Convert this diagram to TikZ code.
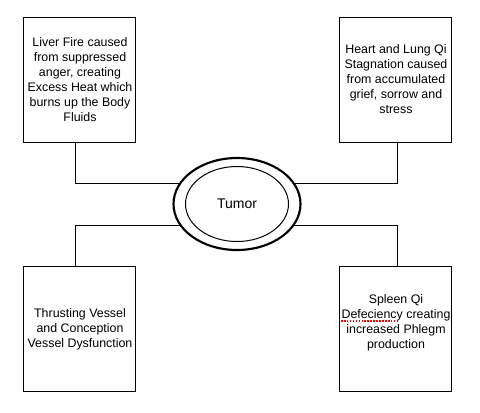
\documentclass[tikz,border=0pt]{standalone}
\usepackage{fontspec}
\setmainfont{Liberation Sans}
\usetikzlibrary{backgrounds,calc,shapes.geometric}
\begin{document}
\begin{tikzpicture}[x=0.75pt,y=-0.75pt,
  box/.style={draw, line width=0.75pt, minimum width=84pt, minimum height=93.75pt,
    inner sep=0pt, align=center, font=\fontsize{9.3}{11.25}\selectfont},
  boxtext/.style={inner sep=0pt, align=center, font=\fontsize{9.3}{11.25}\selectfont},
  conn/.style={draw, line width=0.75pt},
  outerell/.style={ellipse, draw, line width=1.6pt, fill=white, minimum width=95.25pt,
    minimum height=69pt, inner sep=0pt},
  innerell/.style={ellipse, draw, line width=0.75pt, minimum width=77.25pt,
    minimum height=56.25pt, inner sep=0pt, font=\fontsize{10.5}{12}\selectfont}]
\useasboundingbox (0,0) rectangle (480,412);
\node[box] (tl) at (80,79.5) {Liver Fire caused\\from suppressed\\anger, creating\\Excess Heat which\\burns up the Body\\Fluids};
\node[box] (tr) at (396,79.5) {Heart and Lung Qi\\Stagnation caused\\from accumulated\\grief, sorrow and\\stress};
\node[box] (bl) at (80,329) {Thrusting Vessel\\and Conception\\Vessel Dysfunction};
\node[box] (br) at (396,328.5) {};
\node[boxtext] (brtext) at ($(br.center)+(0,-6)$) {Spleen Qi\\Defeciency creating\\increased Phlegm\\production};
\node[outerell] (tumor) at (237,204) {};
\node[innerell] (tumorin) at (237,204) {Tumor};
\begin{scope}[on background layer]
  \draw[conn] ($(tl.south)+(-4,0)$) |- ($(tumor.center)+(0,-21)$);
  \draw[conn] ($(tr.south)+(1.7,0)$) |- ($(tumor.center)+(0,-21)$);
  \draw[conn] ($(bl.north)+(-4,0)$) |- ($(tumor.center)+(0,21)$);
  \draw[conn] ($(br.north)+(2,0)$) |- ($(tumor.center)+(0,21)$);
\end{scope}
\draw[red, line width=0.9pt, dash pattern=on 1.2pt off 1pt] (341,321) -- (397,321);
\end{tikzpicture}
\end{document}
